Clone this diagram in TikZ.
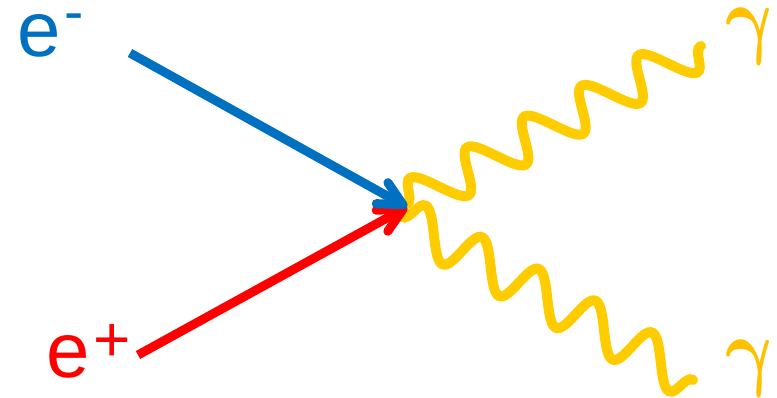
\documentclass[tikz,border=0pt]{standalone}
\usepackage{fontspec}
\setmainfont{Liberation Sans}
\usetikzlibrary{arrows.meta, decorations.pathmorphing}
\definecolor{elecBlue}{RGB}{0, 112, 192}
\definecolor{posRed}{RGB}{255, 0, 0}
\definecolor{photonGold}{RGB}{255, 204, 0}
\definecolor{gammaGold}{RGB}{255, 192, 0}
\newcommand{\photonsym}{\scalebox{7.4}[8.8]{$\gamma$}}

\begin{document}
\begin{tikzpicture}[x=1pt, y=-1pt,
    lepton/.style={line width=9pt, -{Straight Barb[length=24pt, width=24pt, round]}},
    photon/.style={photonGold, line width=10pt, line cap=round, decorate,
      decoration={snake, segment length=65pt, amplitude=21.5pt, transform={xslant=-0.24}}},
    particle/.style={inner sep=0pt, anchor=base west, font=\fontsize{78}{80}\selectfont},
    gammalabel/.style={inner sep=0pt, text=gammaGold, font=\boldmath, xslant=-0.15, transform shape}]
      \useasboundingbox (0,0) rectangle (777,398);

      % vertex, incoming ends, outgoing ends
      \coordinate (vtx) at (407,207);
      \coordinate (eIn) at (130,53);
      \coordinate (pIn) at (138,355);
      \coordinate (gUpEnd) at (701,46);
      \coordinate (gDownEnd) at (693,380);

      \draw[photon] ([shift={(0,-3)}]vtx) -- (gUpEnd);
      \draw[photon] ([shift={(-5,10)}]vtx) -- (gDownEnd);

      \draw[lepton, posRed] (pIn) -- (vtx);
      \draw[lepton, elecBlue] (eIn) -- (vtx);

      \node[particle, text=elecBlue] (eMinus) at (17,57)
        {e\hspace{4pt}\raisebox{25pt}{\fontsize{58}{58}\selectfont -}};
      \node[particle, text=posRed] (ePlus) at (46,377)
        {e\hspace{4pt}\raisebox{16pt}{\fontsize{64}{64}\selectfont +}};
      \node[gammalabel] (gUp) at (752,37) {\photonsym};
      \node[gammalabel] (gDown) at (752,368) {\photonsym};
    \end{tikzpicture}
\end{document}
